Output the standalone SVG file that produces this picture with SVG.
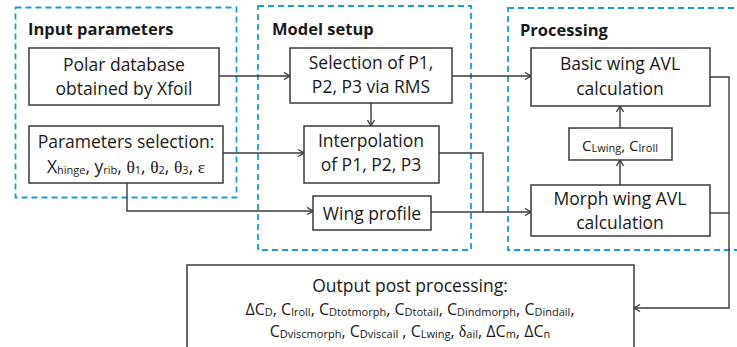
<svg xmlns="http://www.w3.org/2000/svg" width="737" height="347" viewBox="0 0 737 347">
<defs>
<style>
.grp{fill:none;stroke:#1e9bd7;stroke-width:1.8;stroke-dasharray:6 4}
.box{fill:#fff;stroke:#3a3a3a;stroke-width:1.5}
.t{font-family:"Open Sans","Liberation Sans",sans-serif;font-size:17.5px;fill:#1a1a1a;text-anchor:middle}
.h{font-family:"Open Sans","Liberation Sans",sans-serif;font-size:16.5px;font-weight:bold;fill:#1a1a1a}
.s{font-size:11px}
.g{font-family:"Liberation Serif",serif}
.c{fill:none;stroke:#3a3a3a;stroke-width:1.4}
</style>
<marker id="a" markerWidth="8" markerHeight="8" refX="7" refY="4" orient="auto" markerUnits="userSpaceOnUse">
<path d="M1,0.5 L7,4 L1,7.5" fill="none" stroke="#3a3a3a" stroke-width="1.3"/>
</marker>
</defs>
<rect width="737" height="347" fill="#fff"/>
<g id="group-input">
<rect class="grp" x="15.5" y="7.5" width="221" height="190"/>
<text class="h" x="28" y="35">Input parameters</text>
</g>
<g id="group-model">
<rect class="grp" x="258" y="6" width="213" height="244"/>
<text class="h" x="272" y="35">Model setup</text>
</g>
<g id="group-processing">
<rect class="grp" x="508" y="8" width="240" height="242"/>
<text class="h" x="520" y="36">Processing</text>
</g>
<g id="connectors">
<path class="c" d="M219,76 H290" marker-end="url(#a)"/>
<path class="c" d="M371,103 V126" marker-end="url(#a)"/>
<path class="c" d="M223,153 H304" marker-end="url(#a)"/>
<path class="c" d="M127,183 V211 H313" marker-end="url(#a)"/>
<path class="c" d="M452,76 H531" marker-end="url(#a)"/>
<path class="c" d="M439,153 H483 V212"/>
<path class="c" d="M431,212 H531" marker-end="url(#a)"/>
<path class="c" d="M620,185 V160" marker-end="url(#a)"/>
<path class="c" d="M620,128 V106" marker-end="url(#a)"/>
<path class="c" d="M710,77 H729 V308 H634" marker-end="url(#a)"/>
<path class="c" d="M710,213 H729"/>
</g>
<g id="polar">
<rect class="box" x="29" y="48" width="190" height="57"/>
<text class="t" x="124" y="71">Polar database</text>
<text class="t" x="124" y="95">obtained by Xfoil</text>
</g>
<g id="params">
<rect class="box" x="29" y="126" width="194" height="57"/>
<text class="t" x="126" y="148">Parameters selection:</text>
<text class="t" x="126" y="173">X<tspan class="s" dy="1">hinge</tspan><tspan dy="-1">, y</tspan><tspan class="s" dy="1">rib</tspan><tspan dy="-1">, </tspan><tspan class="g">θ</tspan><tspan class="s" dy="1">1</tspan><tspan dy="-1">, </tspan><tspan class="g">θ</tspan><tspan class="s" dy="1">2</tspan><tspan dy="-1">, </tspan><tspan class="g">θ</tspan><tspan class="s" dy="1">3</tspan><tspan dy="-1">, </tspan><tspan class="g">ε</tspan></text>
</g>
<g id="selection">
<rect class="box" x="290" y="48" width="162" height="55"/>
<text class="t" x="371" y="69">Selection of P1,</text>
<text class="t" x="371" y="93">P2, P3 via RMS</text>
</g>
<g id="interp">
<rect class="box" x="304" y="126" width="135" height="57"/>
<text class="t" x="371" y="147">Interpolation</text>
<text class="t" x="371" y="171">of P1, P2, P3</text>
</g>
<g id="wingprofile">
<rect class="box" x="313" y="196" width="118" height="34"/>
<text class="t" x="372" y="220">Wing profile</text>
</g>
<g id="basic">
<rect class="box" x="531" y="48" width="179" height="58"/>
<text class="t" x="620" y="70">Basic wing AVL</text>
<text class="t" x="620" y="95">calculation</text>
</g>
<g id="coeffs">
<rect class="box" x="569" y="128" width="103" height="32"/>
<text class="t" x="620" y="151" style="font-size:15px">C<tspan class="s" dy="1">Lwing</tspan><tspan dy="-1">, C</tspan><tspan class="s" dy="1">lroll</tspan></text>
</g>
<g id="morph">
<rect class="box" x="531" y="185" width="179" height="51"/>
<text class="t" x="620" y="205">Morph wing AVL</text>
<text class="t" x="620" y="229">calculation</text>
</g>
<g id="output">
<rect class="box" x="187" y="265" width="447" height="84"/>
<text class="t" x="410" y="292">Output post processing:</text>
<text class="t" x="410" y="315" style="font-size:16px">ΔC<tspan class="s" dy="1">D</tspan><tspan dy="-1">, C</tspan><tspan class="s" dy="1">lroll</tspan><tspan dy="-1">, C</tspan><tspan class="s" dy="1">Dtotmorph</tspan><tspan dy="-1">, C</tspan><tspan class="s" dy="1">Dtotail</tspan><tspan dy="-1">, C</tspan><tspan class="s" dy="1">Dindmorph</tspan><tspan dy="-1">, C</tspan><tspan class="s" dy="1">Dindail</tspan><tspan dy="-1">,</tspan></text>
<text class="t" x="410" y="337" style="font-size:16px">C<tspan class="s" dy="1">Dviscmorph</tspan><tspan dy="-1">, C</tspan><tspan class="s" dy="1">Dviscail</tspan><tspan dy="-1"> , C</tspan><tspan class="s" dy="1">Lwing</tspan><tspan dy="-1">, </tspan><tspan class="g">δ</tspan><tspan class="s" dy="1">ail</tspan><tspan dy="-1">, ΔC</tspan><tspan class="s" dy="1">m</tspan><tspan dy="-1">, ΔC</tspan><tspan class="s" dy="1">n</tspan></text>
</g>
</svg>
